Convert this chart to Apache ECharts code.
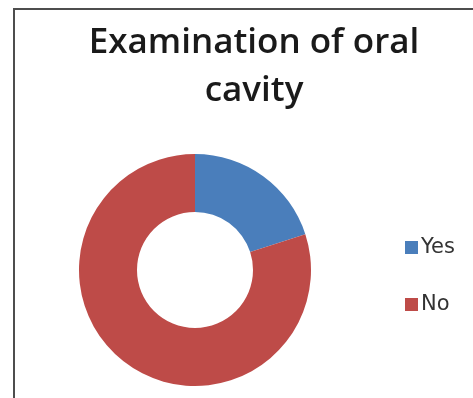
<!DOCTYPE html>
<html>
<head>
<meta charset="utf-8">
<script src="https://cdn.jsdelivr.net/npm/echarts@6/dist/echarts.min.js"></script>
<style>
  html, body { margin: 0; padding: 0; background: #ffffff; }
  #chart { width: 473px; height: 398px; }
</style>
</head>
<body>
<div id="chart"></div>
<script>
// Answers to "Examination of oral cavity"
const categories = ['Yes', 'No'];
const values = [20, 80];
const colors = ['#4a7ebb', '#be4b48'];
const titleText = 'Examination of oral\ncavity';

const chart = echarts.init(document.getElementById('chart'), null, { renderer: 'canvas' });

chart.setOption({
  backgroundColor: '#ffffff',
  animation: false,
  graphic: [{
    type: 'rect',
    shape: { x: 14, y: 9, width: 480, height: 420 },
    style: { fill: 'none', stroke: '#4d4d4d', lineWidth: 2 },
    silent: true
  }],
  title: {
    text: titleText,
    left: 249,
    top: 14,
    textAlign: 'center',
    textStyle: {
      fontFamily: 'Open Sans',
      fontWeight: 600,
      fontSize: 35,
      lineHeight: 48,
      color: '#1a1a1a'
    }
  },
  legend: {
    orient: 'vertical',
    left: 400,
    top: 232,
    itemWidth: 13,
    itemHeight: 13,
    itemGap: 36,
    icon: 'rect',
    textStyle: {
      fontFamily: 'DejaVu Sans',
      fontSize: 21,
      color: '#333333',
      padding: [0, 0, 0, -2]
    },
    data: categories
  },
  series: [{
    type: 'pie',
    center: [195, 270],
    radius: [58, 116],
    startAngle: 90,
    clockwise: true,
    label: { show: false },
    labelLine: { show: false },
    emphasis: { disabled: true },
    data: categories.map((name, i) => ({
      name: name,
      value: values[i],
      itemStyle: { color: colors[i] }
    }))
  }]
});
</script>
</body>
</html>
